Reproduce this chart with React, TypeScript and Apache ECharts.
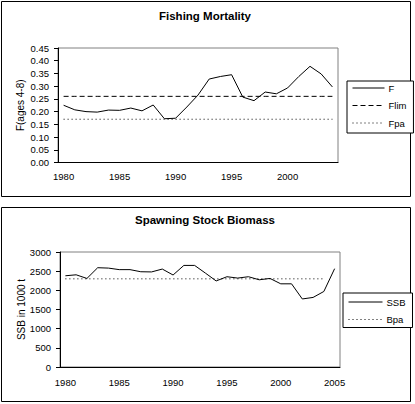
import { useEffect, useRef } from "react"
import * as echarts from "echarts"

// Fishing mortality (ages 4-8), 1980-2004
const fYears = [
  "1980", "1981", "1982", "1983", "1984", "1985", "1986", "1987", "1988", "1989",
  "1990", "1991", "1992", "1993", "1994", "1995", "1996", "1997", "1998", "1999",
  "2000", "2001", "2002", "2003", "2004",
]
const fValues = [
  0.225, 0.207, 0.2, 0.198, 0.206, 0.205, 0.214, 0.203, 0.226, 0.172,
  0.174, 0.218, 0.265, 0.328, 0.338, 0.345, 0.257, 0.243, 0.277, 0.27,
  0.293, 0.338, 0.378, 0.348, 0.297,
]
const F_LIM = 0.26
const F_PA = 0.17

// Spawning stock biomass in 1000 t, 1980-2005
const ssbYears = [
  "1980", "1981", "1982", "1983", "1984", "1985", "1986", "1987", "1988", "1989",
  "1990", "1991", "1992", "1993", "1994", "1995", "1996", "1997", "1998", "1999",
  "2000", "2001", "2002", "2003", "2004", "2005",
]
const ssbValues = [
  2380, 2405, 2310, 2590, 2580, 2540, 2540, 2485, 2480, 2555,
  2400, 2650, 2650, 2450, 2245, 2355, 2320, 2355, 2275, 2310,
  2170, 2170, 1775, 1815, 1970, 2565,
]
const B_PA = 2300
const B_PA_LAST_YEAR = "2004"

const FONT = "'Liberation Sans', Arial, sans-serif"

export default function App() {
  const chartRef = useRef<HTMLDivElement>(null)

  useEffect(() => {
    if (!chartRef.current) return
    const chart = echarts.init(chartRef.current, undefined, { renderer: "svg" })

    const axisLine = { lineStyle: { color: "#000", width: 1 } }
    const tickStyle = { lineStyle: { color: "#000", width: 1 } }
    const labelStyle = { color: "#000", fontSize: 9.5, fontFamily: FONT }
    const nameStyle = { color: "#000", fontSize: 10, fontFamily: FONT }
    const legendBase = {
      orient: "vertical" as const,
      borderColor: "#000",
      borderWidth: 1,
      itemGap: 7.5,
      itemHeight: 10,
      // hide the marker dot, keep only the line sample
      itemStyle: { opacity: 0 },
      lineStyle: { width: 1, color: "#000" },
      inactiveColor: "#000",
      textStyle: { color: "#000", fontSize: 9.5, fontFamily: FONT, padding: [0, 0, 0, -1] },
      backgroundColor: "#fff",
    }

    const bpaLast = ssbYears.indexOf(B_PA_LAST_YEAR)

    const options: echarts.EChartsOption = {
      animation: false,
      textStyle: { fontFamily: FONT },
      title: [
        {
          text: "Fishing Mortality",
          left: 205,
          top: 10,
          textAlign: "center",
          padding: 0,
          textStyle: { fontSize: 11.5, fontWeight: "bold", color: "#000", fontFamily: FONT },
        },
        {
          text: "Spawning Stock Biomass",
          left: 205,
          top: 214,
          textAlign: "center",
          padding: 0,
          textStyle: { fontSize: 11.5, fontWeight: "bold", color: "#000", fontFamily: FONT },
        },
      ],
      legend: [
        {
          ...legendBase,
          left: 347,
          top: 81,
          padding: [2, 7, 5, 5],
          itemWidth: 32,
          data: ["F", "Flim", "Fpa"],
        },
        {
          ...legendBase,
          left: 343,
          top: 293,
          padding: [4, 7, 3, 5],
          itemWidth: 34,
          data: ["SSB", "Bpa"],
        },
      ],
      graphic: [
        {
          type: "rect",
          silent: true,
          z: -10,
          shape: { x: 1.5, y: 1.5, width: 409, height: 195 },
          style: { fill: "none", stroke: "#000", lineWidth: 1 },
        },
        {
          type: "rect",
          silent: true,
          z: -10,
          shape: { x: 1.5, y: 207.5, width: 409, height: 194 },
          style: { fill: "none", stroke: "#000", lineWidth: 1 },
        },
      ],
      grid: [
        { left: 58, top: 48, width: 280, height: 114.5, show: true, borderColor: "#808080", borderWidth: 1 },
        { left: 60, top: 252, width: 280, height: 115, show: true, borderColor: "#808080", borderWidth: 1 },
      ],
      xAxis: [
        {
          type: "category",
          gridIndex: 0,
          data: fYears,
          boundaryGap: true,
          axisLine,
          axisTick: { interval: 0, length: 4, ...tickStyle },
          axisLabel: { interval: 4, margin: 9, ...labelStyle },
          splitLine: { show: false },
        },
        {
          type: "category",
          gridIndex: 1,
          data: ssbYears,
          boundaryGap: true,
          axisLine,
          axisTick: { interval: 0, length: 4, ...tickStyle },
          axisLabel: { interval: 4, margin: 10, ...labelStyle },
          splitLine: { show: false },
        },
      ],
      yAxis: [
        {
          type: "value",
          gridIndex: 0,
          min: 0,
          max: 0.45,
          interval: 0.05,
          name: "F(ages 4-8)",
          nameLocation: "middle",
          nameGap: 33,
          nameMoveOverlap: false,
          nameTextStyle: nameStyle,
          axisLine: { show: true, ...axisLine },
          axisTick: { show: true, length: 4, ...tickStyle },
          axisLabel: { margin: 9, formatter: (v: number) => v.toFixed(2), ...labelStyle },
          splitLine: { show: false },
        },
        {
          type: "value",
          gridIndex: 1,
          min: 0,
          max: 3000,
          interval: 500,
          name: "SSB in 1000 t",
          nameLocation: "middle",
          nameGap: 34,
          nameMoveOverlap: false,
          nameTextStyle: nameStyle,
          axisLine: { show: true, ...axisLine },
          axisTick: { show: true, length: 4, ...tickStyle },
          axisLabel: { margin: 9, formatter: (v: number) => String(v), ...labelStyle },
          splitLine: { show: false },
        },
      ],
      series: [
        {
          name: "F",
          type: "line",
          xAxisIndex: 0,
          yAxisIndex: 0,
          data: fValues,
          symbol: "none",
          lineStyle: { color: "#000", width: 1 },
          itemStyle: { color: "#000" },
        },
        {
          name: "Flim",
          type: "line",
          xAxisIndex: 0,
          yAxisIndex: 0,
          data: fYears.map(() => F_LIM),
          symbol: "none",
          lineStyle: { color: "#000", width: 1, type: [5, 3] },
          itemStyle: { color: "#000" },
        },
        {
          name: "Fpa",
          type: "line",
          xAxisIndex: 0,
          yAxisIndex: 0,
          data: fYears.map(() => F_PA),
          symbol: "none",
          lineStyle: { color: "#000", width: 1, type: [1, 3] },
          itemStyle: { color: "#000" },
        },
        {
          name: "SSB",
          type: "line",
          xAxisIndex: 1,
          yAxisIndex: 1,
          data: ssbValues,
          symbol: "none",
          lineStyle: { color: "#000", width: 1 },
          itemStyle: { color: "#000" },
        },
        {
          name: "Bpa",
          type: "line",
          xAxisIndex: 1,
          yAxisIndex: 1,
          data: ssbYears.map((_, i) => (i <= bpaLast ? B_PA : null)),
          symbol: "none",
          lineStyle: { color: "#000", width: 1, type: [1, 3] },
          itemStyle: { color: "#000" },
        },
      ],
    }

    chart.setOption(options)

    return () => {
      chart.dispose()
    }
  }, [])

  return (
    <div
      ref={chartRef}
      style={{ position: "fixed", left: 0, top: 0, width: 415, height: 404, background: "#fff" }}
    />
  )
}
